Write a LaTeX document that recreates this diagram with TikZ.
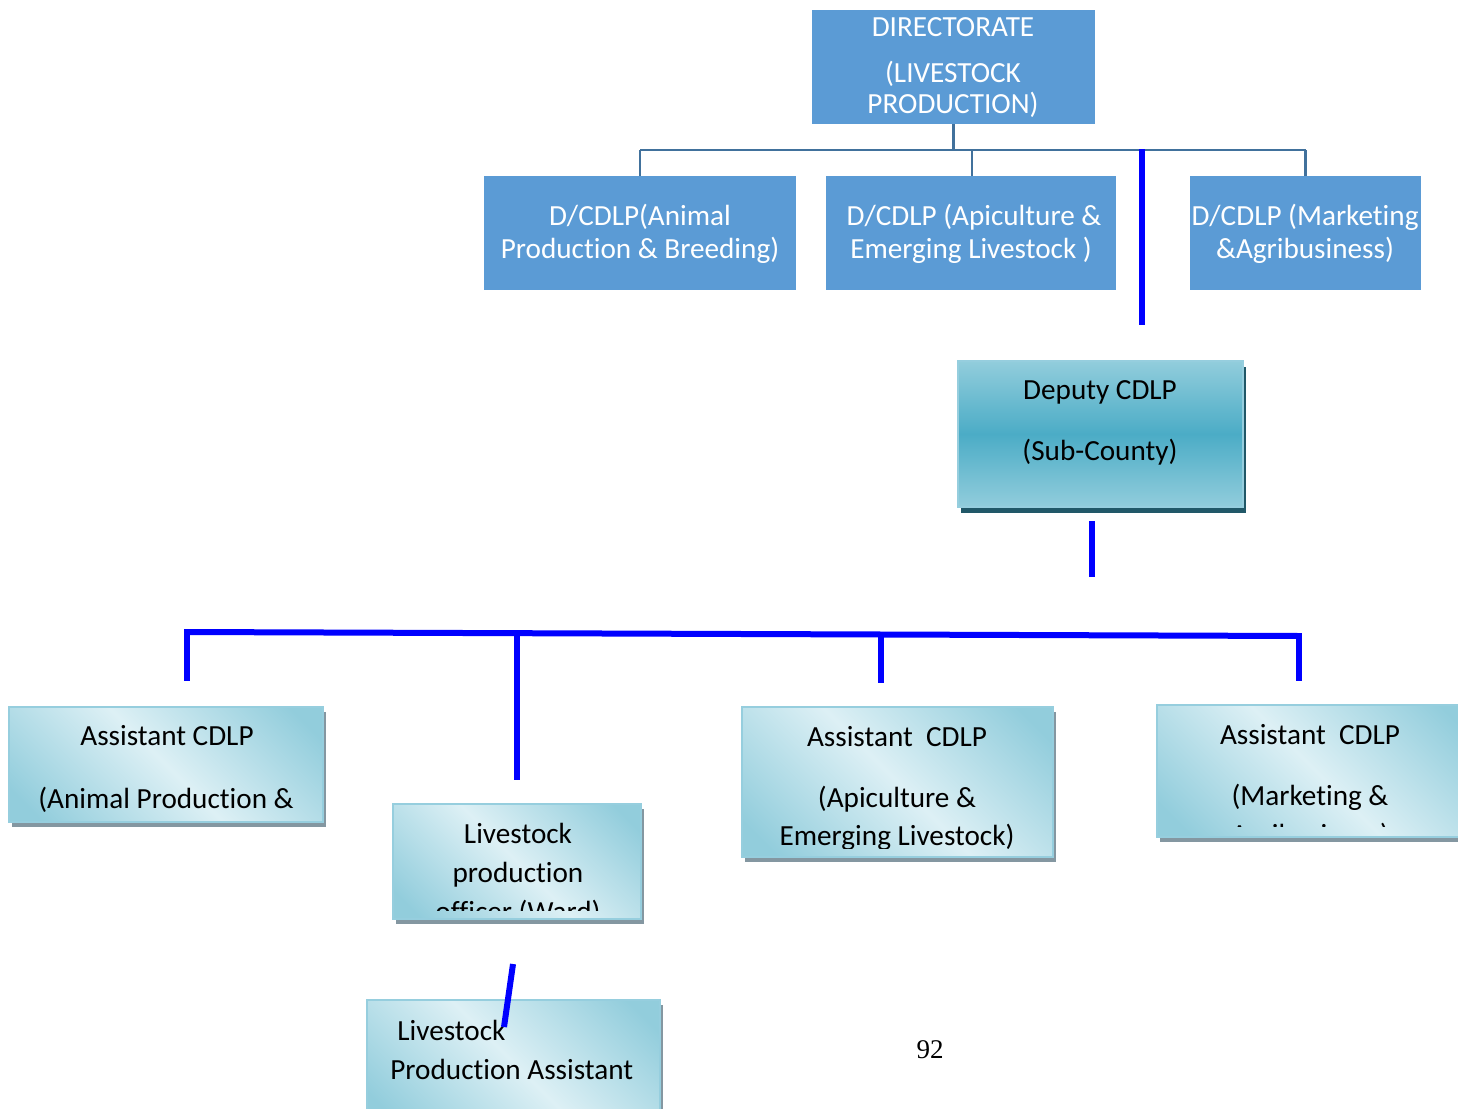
\documentclass[tikz,border=0pt]{standalone}
\usepackage{fontspec}
\setmainfont{Carlito}[Ligatures=NoCommon]
\newfontfamily\pagenumfont{Liberation Serif}
\usetikzlibrary{fit,shadows}

\definecolor{dirblue}{HTML}{5B9BD5}
\definecolor{treeblue}{HTML}{41719C}
\definecolor{linkblue}{HTML}{0000FF}
\definecolor{tealmid}{HTML}{4BACC6}
\definecolor{tealsoft}{HTML}{92CDDC}
\definecolor{tealpale}{HTML}{DDF0F5}
\definecolor{tealedge}{HTML}{96CEDE}
\definecolor{shadowgray}{HTML}{8497A1}
\definecolor{shadowdark}{HTML}{215868}

% pale band along one diagonal, teal towards the other two corners
\pgfdeclarehorizontalshading{paleteal}{100bp}{color(0bp)=(tealsoft); color(20bp)=(tealsoft); color(50bp)=(tealpale); color(80bp)=(tealsoft); color(100bp)=(tealsoft)}

\tikzset{
  boxfont/.style={font=\fontsize{14.6}{17}\selectfont},
  bluebox/.style={fill=dirblue, draw=none, inner sep=0pt},
  deputybox/.style={inner sep=0pt, draw=tealedge, line width=1.1pt,
    top color=tealsoft, bottom color=tealsoft, middle color=tealmid,
    drop shadow={shadow xshift=1.5pt, shadow yshift=-3pt, fill=shadowdark, opacity=1}},
  palebox/.style={inner sep=0pt, draw=tealedge, line width=1.1pt,
    shade, shading=paleteal, shading angle=45,
    drop shadow={shadow xshift=1.5pt, shadow yshift=-2.5pt, fill=shadowgray, opacity=1}},
  whitetxt/.style={boxfont, text=white, anchor=base, inner sep=0pt},
  blacktxt/.style={boxfont, text=black, anchor=base, inner sep=0pt},
  treeline/.style={draw=treeblue, line width=1.1pt},
  bluelink/.style={draw=linkblue, line width=3pt},
}

\begin{document}
\begin{tikzpicture}[x=0.5pt, y=-0.5pt]
\useasboundingbox (0,0) rectangle (1458,1109);

% ---- directorate and its three divisions ----
\node[bluebox, fit={(812,10) (1095,124)}] (dir) {};
\node[whitetxt] (dirA) at (953,36) {DIRECTORATE};
\node[whitetxt] (dirB) at (953,82) {(LIVESTOCK};
\node[whitetxt] (dirC) at (953,113) {PRODUCTION)};

\node[bluebox, fit={(484,176) (796,290)}] (dAnim) {};
\node[whitetxt] (dAnimA) at (640,225) {D/CDLP(Animal};
\node[whitetxt] (dAnimB) at (640,258) {Production \& Breeding)};

\node[bluebox, fit={(826,176) (1116,290)}] (dApic) {};
\node[whitetxt] (dApicA) at (974,225) {D/CDLP (Apiculture \&};
\node[whitetxt] (dApicB) at (971,258) {Emerging Livestock )};

\node[bluebox, fit={(1190,176) (1421,290)}] (dMark) {};
\node[whitetxt] (dMarkA) at (1305,225) {D/CDLP (Marketing};
\node[whitetxt] (dMarkB) at (1305,258) {\&Agribusiness)};

\coordinate (bus) at (0,150);
\draw[treeline] (dir.south) -- (dir.south |- bus);
\draw[treeline] (dAnim.north |- bus) -- (dMark.north |- bus);
\draw[treeline] (dAnim.north |- bus) -- (dAnim.north);
\draw[treeline] ([xshift=0.5pt]dApic.north |- bus) -- ([xshift=0.5pt]dApic.north);
\draw[treeline] (dMark.north |- bus) -- (dMark.north);

% ---- sub-county deputy ----
\coordinate (drop1) at (1142,149);
\coordinate (drop2) at (1142,325);
\draw[bluelink] (drop1) -- (drop2);

\node[deputybox, fit={(958,361) (1243,507)}] (dep) {};
\node[blacktxt] (depA) at (1100,399) {Deputy CDLP};
\node[blacktxt] (depB) at (1100,460) {(Sub-County)};

\coordinate (stub1) at (1092,521);
\coordinate (stub2) at (1092,577);
\draw[bluelink] (stub1) -- (stub2);

% ---- assistants' rail ----
\coordinate (railL) at (187,632);
\coordinate (railR) at (1300,636);
\coordinate (legA) at (187,681);
\coordinate (legBtop) at (517,634);
\coordinate (legB) at (517,780);
\coordinate (legCtop) at (881,635);
\coordinate (legC) at (881,683);
\coordinate (legDtop) at (1299,636);
\coordinate (legD) at (1299,681);
\draw[bluelink] (railL) -- (railR);
\draw[bluelink] ([yshift=1.5pt]railL) -- (legA);
\draw[bluelink] (legBtop) -- (legB);
\draw[bluelink] (legCtop) -- (legC);
\draw[bluelink] ([yshift=1.5pt]legDtop) -- (legD);

% ---- assistant boxes ----
\node[palebox, fit={(9,707) (323,822)}] (asAnim) {};
\node[blacktxt] (asAnimA) at (167,745) {Assistant CDLP};
\node[blacktxt] (asAnimB) at (166,808) {(Animal Production \&};

\node[palebox, fit={(393,804) (641,919)}] (lpo) {};
\begin{scope}
  \clip (lpo.north west) rectangle ([yshift=5pt]lpo.south east);
  \node[blacktxt] (lpoA) at (518,843) {Livestock};
  \node[blacktxt] (lpoB) at (518,882) {production};
  \node[blacktxt] (lpoC) at (518,921) {officer (Ward)};
\end{scope}

\node[palebox, fit={(742,707) (1053,857)}] (asApic) {};
\begin{scope}
  \clip (asApic.north west) rectangle ([yshift=5pt]asApic.south east);
  \node[blacktxt] (asApicA) at (897,746) {Assistant~ CDLP};
  \node[blacktxt] (asApicB) at (897,807) {(Apiculture \&};
  \node[blacktxt] (asApicC) at (897,845) {Emerging Livestock)};
\end{scope}

\node[palebox, fit={(1157,705) (1475,837)}] (asMark) {};
\begin{scope}
  \clip (asMark.north west) rectangle ([yshift=6pt]asMark.south east);
  \node[blacktxt] (asMarkA) at (1310,744) {Assistant~ CDLP};
  \node[blacktxt] (asMarkB) at (1310,805) {(Marketing \&};
  \node[blacktxt] (asMarkC) at (1310,844) {Agribusiness)};
\end{scope}

% ---- ward assistant ----
\node[palebox, fit={(367,1000) (660,1125)}] (lpa) {};
\node[blacktxt, anchor=base west] (lpaA) at (397,1040) {Livestock};
\node[blacktxt, anchor=base west] (lpaB) at (390,1079) {Production Assistant};

\coordinate (slant1) at (513,964);
\coordinate (slant2) at (504,1027);
\draw[bluelink] (slant1) -- (slant2);

% ---- page number ----
\node[font=\pagenumfont\fontsize{13.5}{16}\selectfont, anchor=base, inner sep=0pt] (pagenum) at (930,1058) {92};
\end{tikzpicture}
\end{document}
